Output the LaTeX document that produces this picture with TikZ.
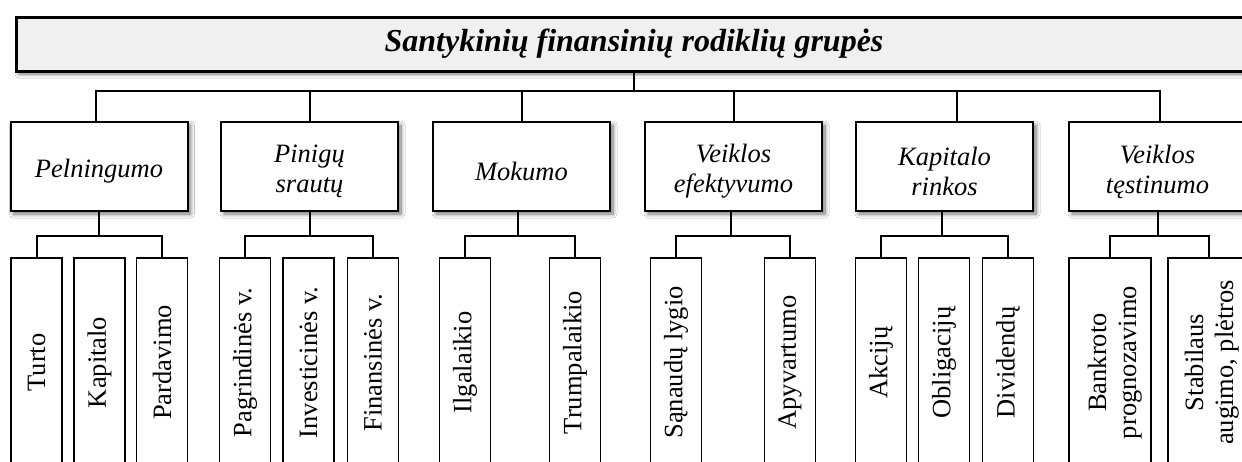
\documentclass[tikz,border=0pt]{standalone}
\usepackage{fontspec}
\setmainfont{Liberation Serif}
\usetikzlibrary{shadows.blur}
\definecolor{titlefill}{HTML}{F0F0F0}

\newcommand{\upright}[1]{\rotatebox{90}{#1}}
\newcommand{\uprighttwo}[2]{\rotatebox{90}{\begin{tabular}{@{}c@{}}#1\\#2\end{tabular}}}

\begin{document}
\begin{tikzpicture}[x=1pt,y=-1pt,
  softshadow/.style={blur shadow={shadow xshift=3pt, shadow yshift=-3pt,
      shadow blur radius=4pt, shadow opacity=55, shadow blur steps=10}},
  titlebox/.style={draw, line width=3pt, fill=titlefill, inner sep=0pt,
      minimum width=1236pt, minimum height=54pt, softshadow,
      font=\fontsize{32}{36}\selectfont\bfseries\itshape},
  groupbox/.style={draw, line width=2pt, fill=white, inner sep=0pt,
      minimum width=177pt, minimum height=89pt, softshadow},
  grouptext/.style={inner sep=0pt, align=center,
      font=\fontsize{26.5}{30}\selectfont\itshape},
  leafbox/.style={draw, line width=1.8pt, fill=white, inner sep=0pt,
      minimum width=51pt, minimum height=209pt,
      font=\fontsize{26.5}{30}\selectfont},
  wideleaf/.style={leafbox, minimum width=82pt},
  link/.style={line width=2pt}]

\fill[white] (0,0) rectangle (1242,461);
\useasboundingbox (0,0) rectangle (1242,461);
\clip (0,0) rectangle (1242,461);

% heading
\node[titlebox] (title) at (634,44) {Santykinių finansinių rodiklių grupės};

% group boxes
\node[groupbox] (p1) at (99,166.5)    {};
\node[groupbox] (p2) at (309.5,166.5) {};
\node[groupbox] (p3) at (521.5,166.5) {};
\node[groupbox] (p4) at (733.5,166.5) {};
\node[groupbox] (p5) at (944.5,166.5) {};
\node[groupbox] (p6) at (1157.5,166.5) {};

\node[grouptext] (p1t) at ([yshift=-5pt]p1.center) {Pelningumo};
\node[grouptext] (p2t) at ([yshift=-5pt]p2.center) {Pinigų\\srautų};
\node[grouptext] (p3t) at ([yshift=-5pt]p3.center) {Mokumo};
\node[grouptext] (p4t) at ([yshift=-5pt]p4.center) {Veiklos\\efektyvumo};
\node[grouptext] (p5t) at ([yshift=-5pt]p5.center) {Kapitalo\\rinkos};
\node[grouptext] (p6t) at ([yshift=-5pt]p6.center) {Veiklos\\tęstinumo};

% indicator boxes
\node[leafbox] (s11) at (36.5,362.5) {\upright{Turto}};
\node[leafbox] (s12) at (99.5,362.5) {\upright{Kapitalo}};
\node[leafbox] (s13) at (162,362.5)  {\upright{Pardavimo}};

\node[leafbox] (s21) at (245,362.5)   {\upright{Pagrindinės v.}};
\node[leafbox] (s22) at (308.5,362.5) {\upright{Investicinės v.}};
\node[leafbox] (s23) at (373,362.5)   {\upright{Finansinės v.}};

\node[leafbox] (s31) at (465,362.5) {\upright{Ilgalaikio}};
\node[leafbox] (s32) at (575,362.5) {\upright{Trumpalaikio}};

\node[leafbox] (s41) at (676,362.5) {\upright{Sąnaudų lygio}};
\node[leafbox] (s42) at (790,362.5) {\upright{Apyvartumo}};

\node[leafbox] (s51) at (881,362.5)  {\upright{Akcijų}};
\node[leafbox] (s52) at (944,362.5)  {\upright{Obligacijų}};
\node[leafbox] (s53) at (1008,362.5) {\upright{Dividendų}};

\node[wideleaf] (s61) at (1110,362.5)
  {\hspace*{10pt}\uprighttwo{Bankroto}{prognozavimo}};
\node[wideleaf] (s62) at (1209,362.5)
  {\hspace*{6pt}\uprighttwo{Stabilaus}{augimo, plėtros}};

% heading to groups
\draw[link] (title.south) -- ++(0,19);
\draw[link] ([xshift=-3pt]p1.north) -- ++(0,-30) -| ([xshift=2.5pt]p6.north);
\draw[link] (p2.north) -- ++(0,-30);
\draw[link] (p3.north) -- ++(0,-30);
\draw[link] (p4.north) -- ++(0,-30);
\draw[link] ([xshift=12pt]p5.north) -- ++(0,-30);

% groups to indicators
\draw[link] (p1.south) -- ++(0,25);
\draw[link] (s11.north) -- ++(0,-21) -| (s13.north);
\draw[link] (p2.south) -- ++(0,25);
\draw[link] (s21.north) -- ++(0,-21) -| (s23.north);
\draw[link] ([xshift=-4pt]p3.south) -- ++(0,25);
\draw[link] (s31.north) -- ++(0,-21) -| (s32.north);
\draw[link] ([xshift=-3pt]p4.south) -- ++(0,25);
\draw[link] (s41.north) -- ++(0,-21) -| (s42.north);
\draw[link] ([xshift=-3pt]p5.south) -- ++(0,25);
\draw[link] (s51.north) -- ++(0,-21) -| (s53.north);
\draw[link] (p6.south) -- ++(0,25);
\draw[link] (s61.north) -- ++(0,-21) -| (s62.north);

\end{tikzpicture}
\end{document}
